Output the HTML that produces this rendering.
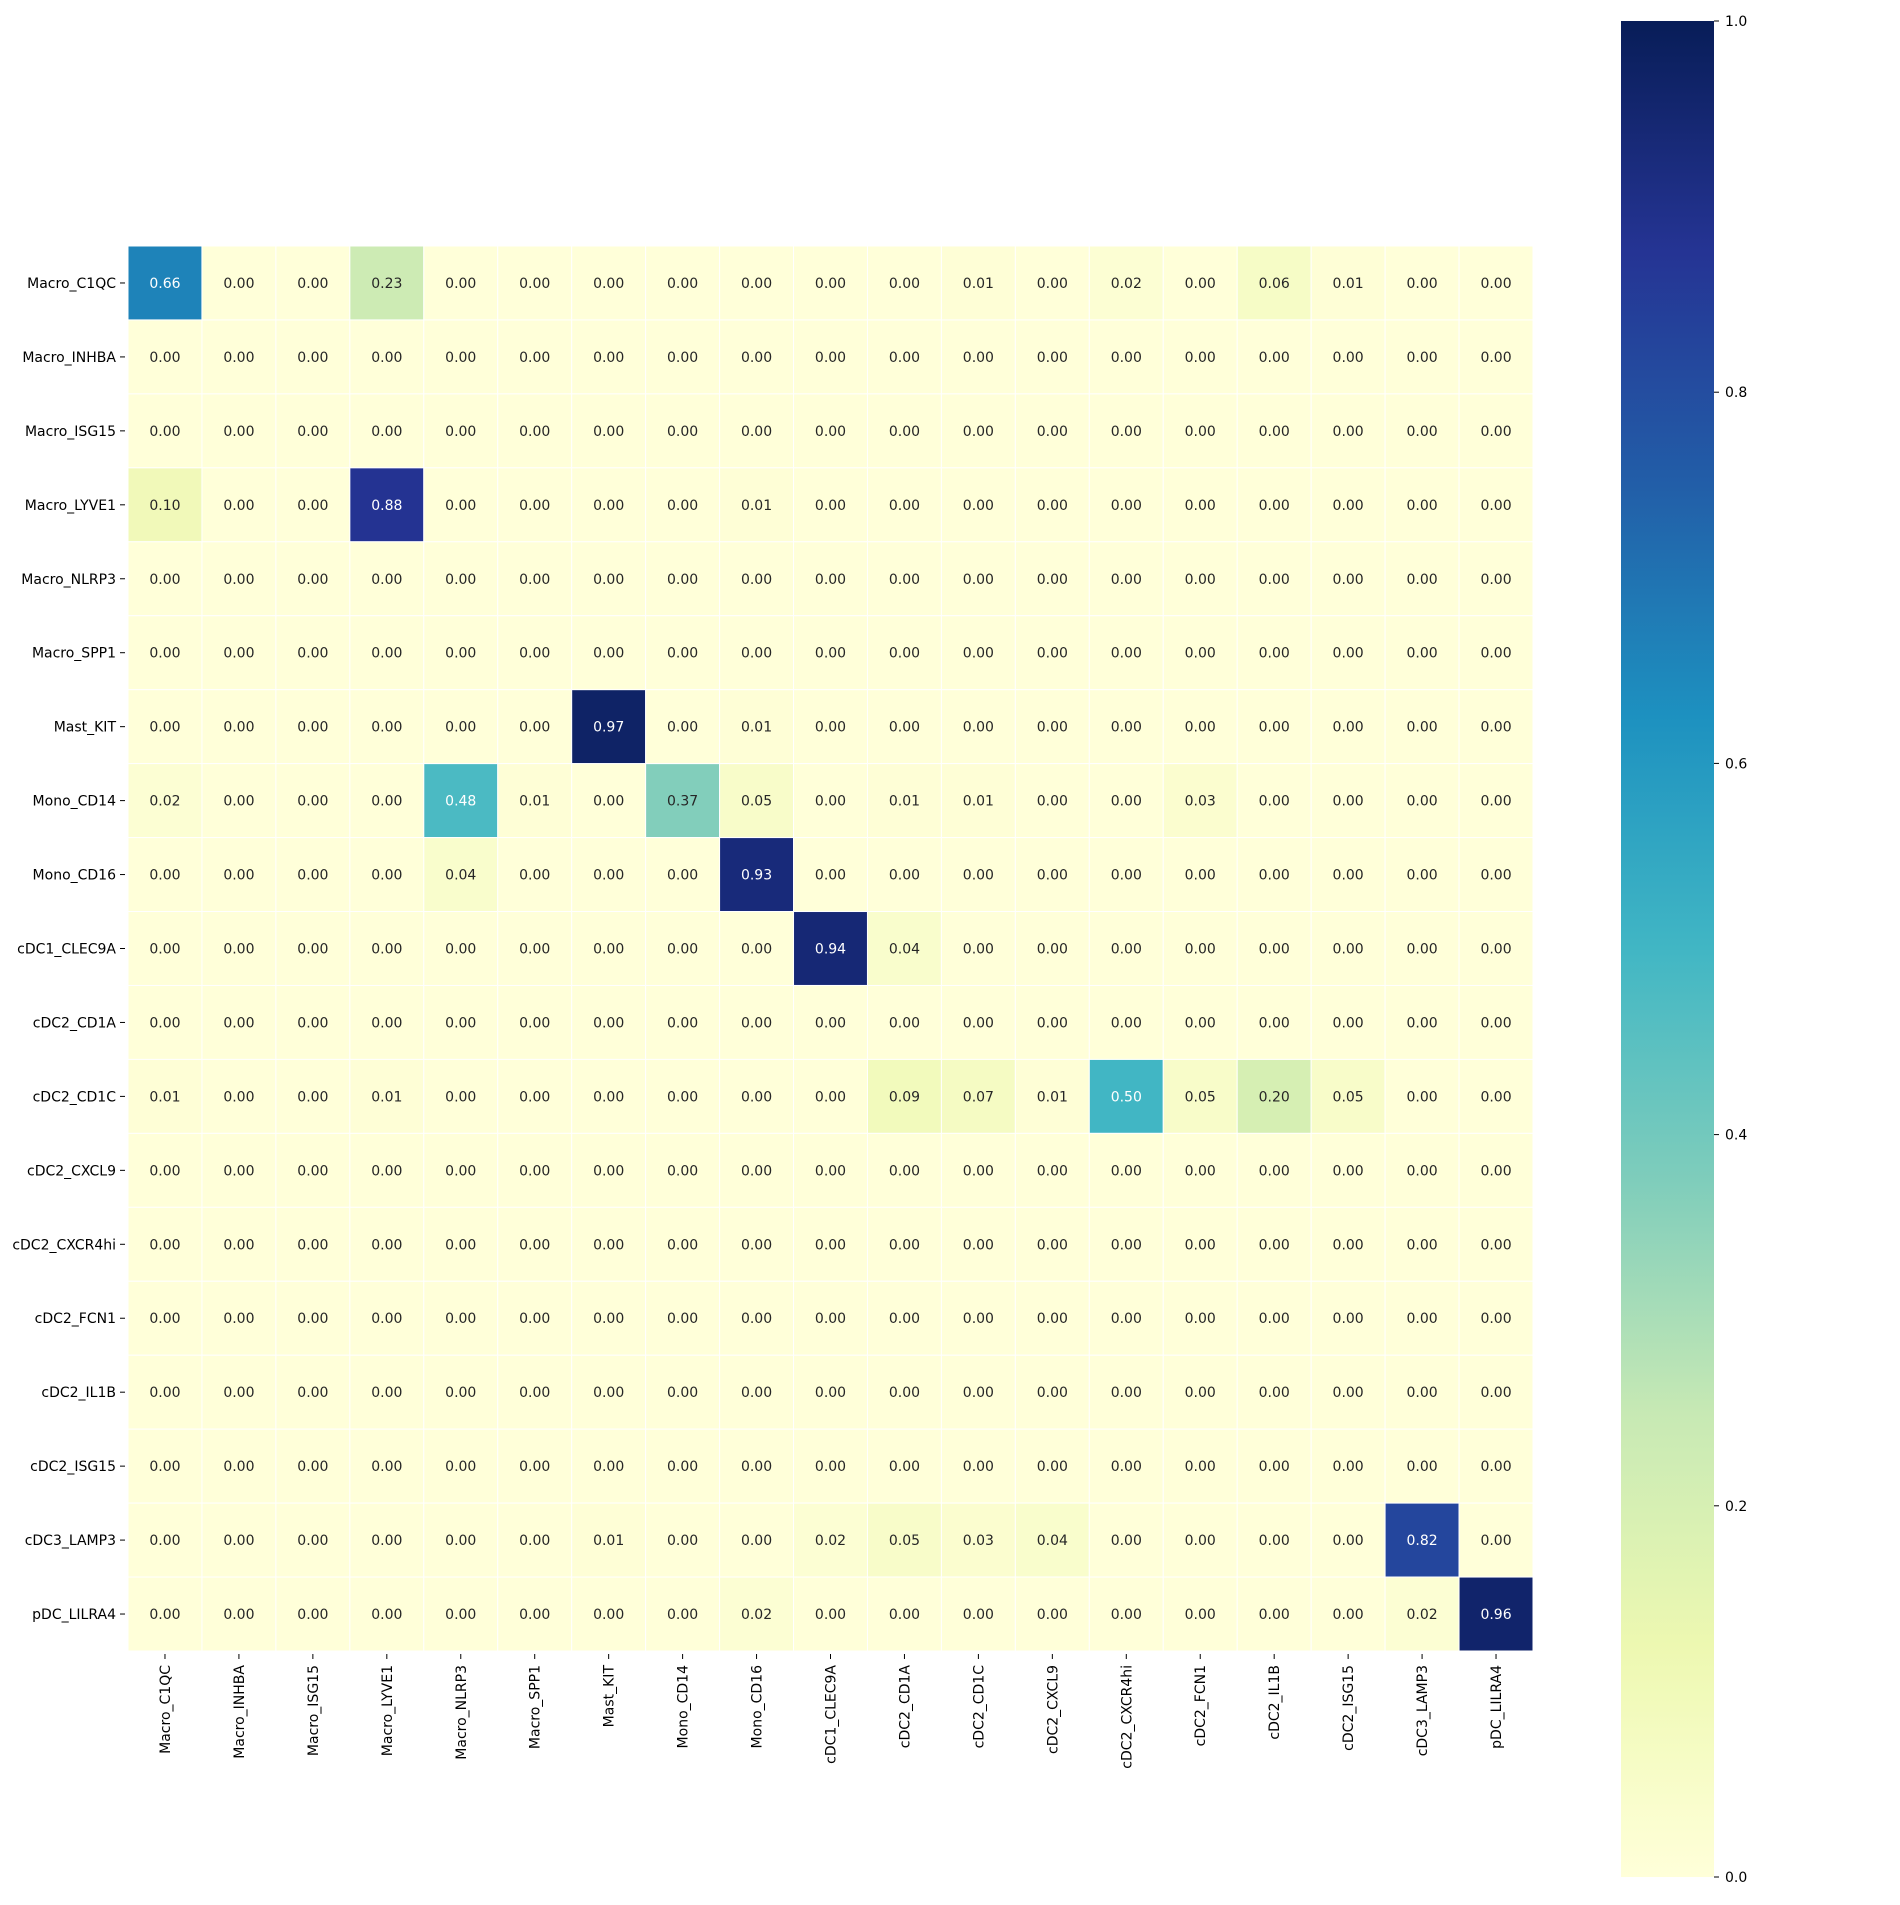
<!DOCTYPE html>
<html><head><meta charset="utf-8"><style>
body{margin:0;background:#fff}
svg text{font-family:"DejaVu Sans","Liberation Sans",sans-serif}
</style></head><body>
<svg id="chart" width="1900" height="1900" viewBox="0 0 1900 1900" xmlns="http://www.w3.org/2000/svg">
<defs><linearGradient id="cbgrad" x1="0" y1="1" x2="0" y2="0"></linearGradient></defs>
<g id="cells"></g>
<g id="ylab"></g>
<g id="xlab"></g>
<g id="cbar"></g>
</svg>
<script>
const labels = ["Macro_C1QC","Macro_INHBA","Macro_ISG15","Macro_LYVE1","Macro_NLRP3","Macro_SPP1","Mast_KIT","Mono_CD14","Mono_CD16","cDC1_CLEC9A","cDC2_CD1A","cDC2_CD1C","cDC2_CXCL9","cDC2_CXCR4hi","cDC2_FCN1","cDC2_IL1B","cDC2_ISG15","cDC3_LAMP3","pDC_LILRA4"];
const Z = Array(19).fill(0);
const values = [
 [0.66,0,0,0.23,0,0,0,0,0,0,0,0.01,0,0.02,0,0.06,0.01,0,0],
 Z.slice(), Z.slice(),
 [0.10,0,0,0.88,0,0,0,0,0.01,0,0,0,0,0,0,0,0,0,0],
 Z.slice(), Z.slice(),
 [0,0,0,0,0,0,0.97,0,0.01,0,0,0,0,0,0,0,0,0,0],
 [0.02,0,0,0,0.48,0.01,0,0.37,0.05,0,0.01,0.01,0,0,0.03,0,0,0,0],
 [0,0,0,0,0.04,0,0,0,0.93,0,0,0,0,0,0,0,0,0,0],
 [0,0,0,0,0,0,0,0,0,0.94,0.04,0,0,0,0,0,0,0,0],
 Z.slice(),
 [0.01,0,0,0.01,0,0,0,0,0,0,0.09,0.07,0.01,0.50,0.05,0.20,0.05,0,0],
 Z.slice(), Z.slice(), Z.slice(), Z.slice(), Z.slice(),
 [0,0,0,0,0,0,0.01,0,0,0.02,0.05,0.03,0.04,0,0,0,0,0.82,0],
 [0,0,0,0,0,0,0,0,0.02,0,0,0,0,0,0,0,0,0.02,0.96]
];
const cbTicks = [0,0.2,0.4,0.6,0.8,1.0];
const cbTickLabels = ["0.0","0.2","0.4","0.6","0.8","1.0"];

const stops=["#ffffd9","#edf8b1","#c7e9b4","#7fcdbb","#41b6c4","#1d91c0","#225ea8","#253494","#081d58"].map(h=>[1,3,5].map(i=>parseInt(h.substr(i,2),16)));
function cmap(v){v=Math.max(0,Math.min(1,v));const p=v*8,i=Math.min(7,Math.floor(p)),f=p-i;
 return stops[i].map((c,k)=>c+(stops[i+1][k]-c)*f);}
function rgb(c){return `rgb(${c.map(Math.round).join(',')})`;}
function lum(c){const l=c.map(x=>{x/=255;return x<=0.03928?x/12.92:Math.pow((x+0.055)/1.055,2.4)});return 0.2126*l[0]+0.7152*l[1]+0.0722*l[2];}

const X0=128,Y0=246,W=1405,n=labels.length,cw=W/n;
const xs=i=>X0+i*cw, ys=j=>Y0+j*cw;
const NS="http://www.w3.org/2000/svg";
function mk(t,a,p){const e=document.createElementNS(NS,t);for(const k in a)e.setAttribute(k,a[k]);p.appendChild(e);return e;}
const cells=document.getElementById('cells'),yl=document.getElementById('ylab'),xl=document.getElementById('xlab'),cb=document.getElementById('cbar');
values.forEach((row,j)=>row.forEach((v,i)=>{
 const c=cmap(v);
 const r=mk('rect',{x:xs(i),y:ys(j),width:cw,height:cw,fill:rgb(c),stroke:'#fff','stroke-width':1},cells);
 
 
 const t=mk('text',{x:xs(i)+cw/2,y:ys(j)+cw/2+5,'text-anchor':'middle','font-size':14,fill:lum(c)>0.408?'#262626':'#ffffff'},cells);
 t.textContent=v.toFixed(2);
 
 
}));
labels.forEach((l,j)=>{
 mk('line',{x1:X0-8,x2:X0-3,y1:ys(j)+cw/2,y2:ys(j)+cw/2,stroke:'#000','stroke-width':1},yl);
 const t=mk('text',{x:X0-12,y:ys(j)+cw/2+5,'text-anchor':'end','font-size':14,fill:'#000'},yl);
 t.textContent=l;
 
 
});
labels.forEach((l,i)=>{
 const x=xs(i)+cw/2,y=Y0+W;
 mk('line',{x1:x,x2:x,y1:y+3,y2:y+8,stroke:'#000','stroke-width':1},xl);
 const t=mk('text',{x:0,y:0,'text-anchor':'end','font-size':14,fill:'#000',transform:`translate(${x+5},${y+14}) rotate(-90)`},xl);
 t.textContent=l;
 
 
});
const g=document.getElementById('cbgrad');
for(let k=0;k<=16;k++){mk('stop',{offset:k/16,'stop-color':rgb(cmap(k/16))},g);}
const CBX=1621,CBW=93,CBT=21,CBB=1877;
const cy=v=>CBB-v*(CBB-CBT);
const cr=mk('rect',{x:CBX,y:CBT,width:CBW,height:CBB-CBT,fill:'url(#cbgrad)'},cb);


cbTicks.forEach((v,k)=>{
 mk('line',{x1:CBX+CBW,x2:CBX+CBW+5,y1:cy(v),y2:cy(v),stroke:'#000','stroke-width':1},cb);
 const t=mk('text',{x:CBX+CBW+11,y:cy(v)+5,'font-size':14,fill:'#000'},cb);
 t.textContent=cbTickLabels[k];
 
 
});
</script>
</body></html>
